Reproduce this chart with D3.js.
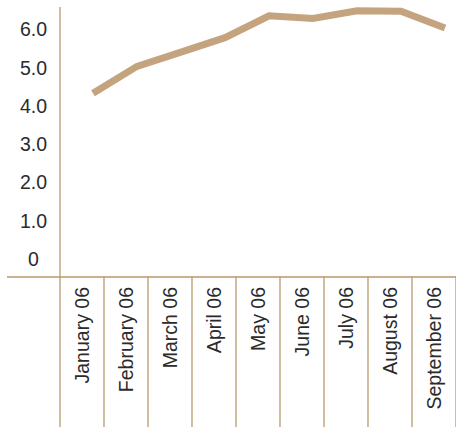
<!DOCTYPE html>
<html><head><meta charset="utf-8">
<script src="https://cdn.jsdelivr.net/npm/d3@7"></script>
<style>body{margin:0;background:#fff}svg{display:block}text{font-family:"Liberation Sans",Arial,sans-serif;fill:#2b2b2b}</style>
</head><body><svg width="456" height="427"></svg>
<script>
const categories = ["January 06","February 06","March 06","April 06","May 06","June 06","July 06","August 06","September 06"];
const values = [4.33,5.03,5.4,5.78,6.35,6.28,6.48,6.47,6.03];
const yTicks = [0,1,2,3,4,5,6];
const yTickLabels = ["0","1.0","2.0","3.0","4.0","5.0","6.0"];

const svg = d3.select("svg");
const axisColor = "#b8996d", lineColor = "#c4a47f";
const x = d3.scaleBand().domain(categories).range([60,456]);
const y = d3.scaleLinear().domain([-0.47,6.58]).range([277,7]);

// separators
svg.append("g").selectAll("line").data(categories).join("line")
  .attr("x1",d=>x(d)+x.bandwidth()).attr("x2",d=>x(d)+x.bandwidth())
  .attr("y1",277).attr("y2",427).attr("stroke",axisColor).attr("stroke-width",1.3);
// y axis line
svg.append("line").attr("x1",60).attr("x2",60).attr("y1",7).attr("y2",427).attr("stroke",axisColor).attr("stroke-width",1.3);
// baseline
svg.append("line").attr("x1",7).attr("x2",456).attr("y1",277).attr("y2",277).attr("stroke",axisColor).attr("stroke-width",1.3);

// y labels
svg.append("g").selectAll("text").data(yTicks).join("text")
  .attr("x",33.5).attr("y",d=>y(d)).attr("dy","0.36em").attr("text-anchor","middle")
  .style("font-size","19.5px").text((d,i)=>yTickLabels[i]);

// x labels
svg.append("g").selectAll("text").data(categories).join("text")
  .attr("transform",d=>`translate(${x(d)+x.bandwidth()/2},287) rotate(-90)`)
  .attr("dy","0.36em").attr("text-anchor","end").style("font-size","19.5px").text(d=>d);

// line
const line = d3.line().x((d,i)=>x(categories[i])+x.bandwidth()*0.75).y(d=>y(d));
svg.append("path").datum(values).attr("d",line).attr("fill","none")
  .attr("stroke",lineColor).attr("stroke-width",7).attr("stroke-linejoin","miter");
</script></body></html>
